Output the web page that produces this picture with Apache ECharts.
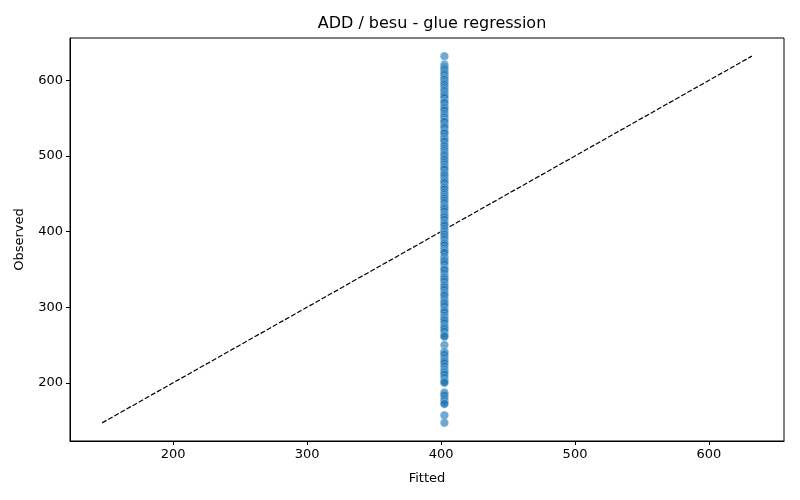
<!DOCTYPE html>
<html style="height: 100%">

<head>
    <meta charset="utf-8">
    <title>ADD / besu - glue regression</title>
</head>

<body style="height: 100%; margin: 0; background: #fff">
    <div id="container" style="width: 800px; height: 500px"></div>
    <script src="https://cdn.jsdelivr.net/npm/echarts@6/dist/echarts.min.js"></script>
    <script type="text/javascript">
        var chartTitle = 'ADD / besu - glue regression';
        var xName = 'Fitted';
        var yName = 'Observed';

        // fitted value is the same for every row
        var fittedValue = 402.5;
        var observed = [
            632, 621, 618, 616, 614, 611, 609, 607, 604, 602, 601, 598, 596, 594, 591,
            588, 586, 583, 581, 579, 577, 573, 571, 570, 566, 564, 562, 560, 556, 553,
            551, 548, 546, 545, 541, 539, 537, 533, 531, 530, 526, 523, 521, 519, 515,
            513, 510, 507, 504, 502, 500, 497, 495, 492, 489, 486, 484, 482, 478, 476,
            474, 471, 468, 466, 464, 460, 458, 456, 452, 449, 446, 444, 441, 438, 434,
            432, 430, 427, 423, 421, 419, 416, 412, 410, 408, 404, 401, 398, 396, 393,
            390, 386, 384, 382, 378, 375, 373, 372, 367, 364, 362, 360, 357, 352, 350,
            349, 345, 341, 339, 337, 334, 330, 328, 326, 323, 319, 317, 315, 311, 308,
            306, 304, 301, 297, 295, 293, 289, 286, 284, 282, 279, 275, 273, 271, 268,
            264, 262, 261, 250, 241, 239, 237, 233, 230, 228, 226, 222, 218, 215, 213,
            211, 207, 203, 201, 200, 187, 185, 183, 179, 176, 173, 172, 157, 147
        ];
        // identity reference line
        var refLine = [147, 632];

        var points = observed.map(function (v) {
            return [fittedValue, v];
        });
        var linePts = refLine.map(function (v) {
            return [v, v];
        });

        var axisMin = 123;
        var axisMax = 656;

        function makeAxis(name, isY) {
            return {
                type: 'value',
                min: axisMin,
                max: axisMax,
                splitNumber: 5,
                name: name,
                nameLocation: 'middle',
                nameGap: isY ? 44 : 31,
                nameTextStyle: { color: '#000', fontSize: 13, fontFamily: 'DejaVu Sans' },
                axisLine: { show: true, lineStyle: { color: '#000', width: 1 } },
                axisTick: { show: true, length: 4, lineStyle: { color: '#000' } },
                axisLabel: {
                    color: '#000', fontSize: 13, fontFamily: 'DejaVu Sans',
                    showMinLabel: false, showMaxLabel: false, margin: 7
                },
                splitLine: { show: false }
            };
        }

        var myChart = echarts.init(document.getElementById('container'));

        var option = {
            backgroundColor: '#fff',
            animation: false,
            title: {
                text: chartTitle,
                left: 427,
                top: 11,
                textAlign: 'center',
                textStyle: { color: '#000', fontSize: 16, fontWeight: 'normal', fontFamily: 'DejaVu Sans' }
            },
            grid: {
                left: 70,
                right: 16,
                top: 38,
                bottom: 59,
                show: true,
                borderColor: '#000',
                borderWidth: 1,
                backgroundColor: 'transparent'
            },
            xAxis: makeAxis(xName, false),
            yAxis: makeAxis(yName, true),
            series: [{
                type: 'line',
                data: linePts,
                showSymbol: false,
                symbol: 'none',
                lineStyle: { color: '#000', width: 1.2, type: [5, 2] },
                z: 1
            }, {
                type: 'scatter',
                data: points,
                symbolSize: 8.5,
                itemStyle: {
                    color: 'rgba(31,119,180,0.8)',
                    borderColor: 'rgba(255,255,255,0.7)',
                    borderWidth: 0.5
                },
                z: 2
            }]
        };
        myChart.setOption(option);
    </script>
</body>

</html>
